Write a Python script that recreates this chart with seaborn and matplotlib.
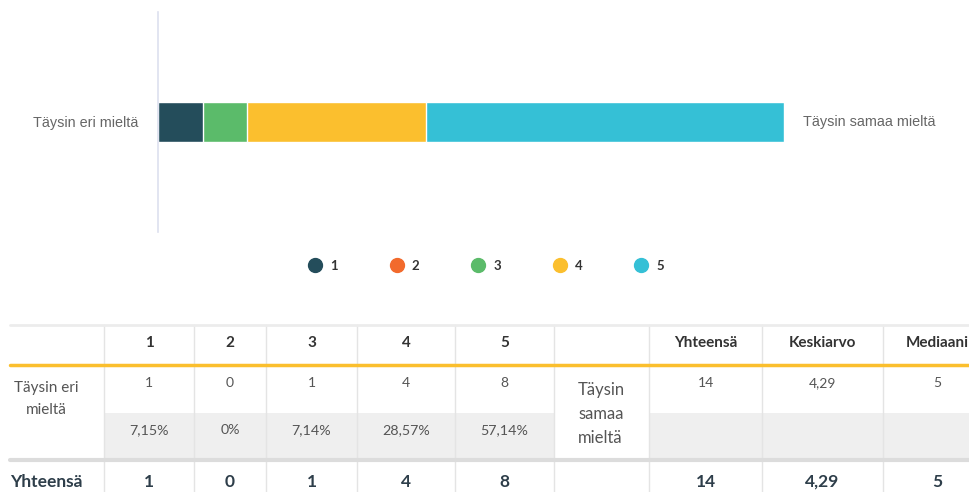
import numpy as np
import pandas as pd
import matplotlib
matplotlib.use('Agg')
import matplotlib.pyplot as plt
from matplotlib.lines import Line2D
from matplotlib.patches import Rectangle
import seaborn as sns

# Data
categories = ['1', '2', '3', '4', '5']
counts = [1, 0, 1, 4, 8]
percents = ['7,15%', '0%', '7,14%', '28,57%', '57,14%']
total = 14
mean_txt = '4,29'
median = 5
left_label = 'Täysin eri mieltä'
right_label = 'Täysin samaa mieltä'
colors = ['#244d5b', '#f26a2c', '#5bbb6a', '#fbbf2e', '#35c0d6']

W, H = 970, 492
sns.set_theme(style='white')
plt.rcParams['font.family'] = ['Lato', 'DejaVu Sans']

fig = plt.figure(figsize=(W / 100, H / 100), dpi=100)


def px_axes(x0, y0, x1, y1):
    return fig.add_axes([x0 / W, 1 - y1 / H, (x1 - x0) / W, (y1 - y0) / H])


# --- table (pixel coordinates) ---
tab = fig.add_axes([0, 0, 1, 1])
tab.set_xlim(0, W)
tab.set_ylim(H, 0)
tab.axis('off')

col_edges = [10, 104, 194, 266, 357, 455, 554, 649, 762, 883, 991]
centers = [(a + b) / 2 for a, b in zip(col_edges[:-1], col_edges[1:])]
y_top, y_head, y_yel, y_row, y_band0, y_band1, y_pct, y_tot = 325, 343, 365, 383, 413, 458, 430, 482

# gray band for percentage row
tab.add_patch(Rectangle((col_edges[1], y_band0), col_edges[6] - col_edges[1], y_band1 - y_band0,
                        color='#efefef', lw=0, zorder=0))
tab.add_patch(Rectangle((col_edges[7], y_band0), col_edges[-1] - col_edges[7], y_band1 - y_band0,
                        color='#efefef', lw=0, zorder=0))

for x in col_edges[1:-1]:
    tab.plot([x, x], [y_top, H], color='#e4e4e4', lw=1, zorder=1)
tab.plot([col_edges[0], W], [y_top, y_top], color='#ececec', lw=2, zorder=2)
tab.plot([col_edges[0], W], [y_yel, y_yel], color='#fbbf2e', lw=2.5, zorder=2)
tab.plot([col_edges[0], W], [y_band1 + 1.5, y_band1 + 1.5], color='#dcdcdc', lw=3, zorder=2)

header = [''] + categories + ['', 'Yhteensä', 'Keskiarvo', 'Mediaani']
row_vals = [''] + [str(c) for c in counts] + ['', str(total), mean_txt, str(median)]
pct_vals = [''] + percents + ['', '', '', '']
tot_vals = [''] + [str(c) for c in counts] + ['', str(total), mean_txt, str(median)]

for cx, h, r, p, t in zip(centers, header, row_vals, pct_vals, tot_vals):
    tab.text(cx, y_head, h, ha='center', va='center', fontsize=11, fontweight='bold', color='#333333')
    tab.text(cx, y_row, r, ha='center', va='center', fontsize=10, color='#555555')
    tab.text(cx, y_pct, p, ha='center', va='center', fontsize=10.3, color='#555555')
    tab.text(cx, y_tot, t, ha='center', va='center', fontsize=12.5, fontweight='bold', color='#2e3e4a')

tab.text(46, 399, 'Täysin eri\nmieltä', ha='center', va='center', fontsize=11,
         color='#555555', linespacing=1.8, multialignment='center')
tab.text(578, 414, 'Täysin\nsamaa\nmieltä', ha='left', va='center', fontsize=12,
         color='#555555', linespacing=1.6)
tab.text(col_edges[0], y_tot, 'Yhteensä', ha='left', va='center', fontsize=12.5,
         fontweight='bold', color='#2e3e4a')

# --- stacked bar ---
ax = px_axes(158, 12, 784, 232)
ax.patch.set_alpha(0)
cum = np.cumsum(counts)
for i in reversed(range(len(categories))):
    if counts[i] == 0:
        continue
    sns.barplot(x=[cum[i]], y=[left_label], color=colors[i], orient='h', ax=ax,
                width=0.8, edgecolor='white', linewidth=1, saturation=1)
ax.set_xlim(0, total)
ax.set_ylim(2.25, -2.25)
for s in ['top', 'right', 'bottom']:
    ax.spines[s].set_visible(False)
ax.spines['left'].set_color('#dde0ef')
ax.spines['left'].set_linewidth(1.2)
ax.set_xticks([])
ax.set_xlabel('')
ax.set_ylabel('')
ax.tick_params(axis='y', length=0, pad=14)
for lbl in ax.get_yticklabels():
    lbl.set_fontfamily(['Liberation Sans', 'DejaVu Sans'])
    lbl.set_fontsize(10.4)
    lbl.set_color('#666666')
ax.annotate(right_label, xy=(total, 0), xytext=(13.5, 0), textcoords='offset points',
            ha='left', va='center', fontsize=10.4, color='#666666',
            family=['Liberation Sans', 'DejaVu Sans'], annotation_clip=False)

# --- legend ---
handles = [Line2D([], [], marker='o', ls='', markersize=10, color=c) for c in colors]
fig.legend(handles, categories, loc='center', bbox_to_anchor=(487 / W, 1 - 266 / H), ncol=5,
           frameon=False, handlelength=0.8, handletextpad=0.75, columnspacing=4.05,
           prop={'size': 9.5, 'weight': 'bold'}, labelcolor='#333333')

fig.savefig('out.png', dpi=100)
